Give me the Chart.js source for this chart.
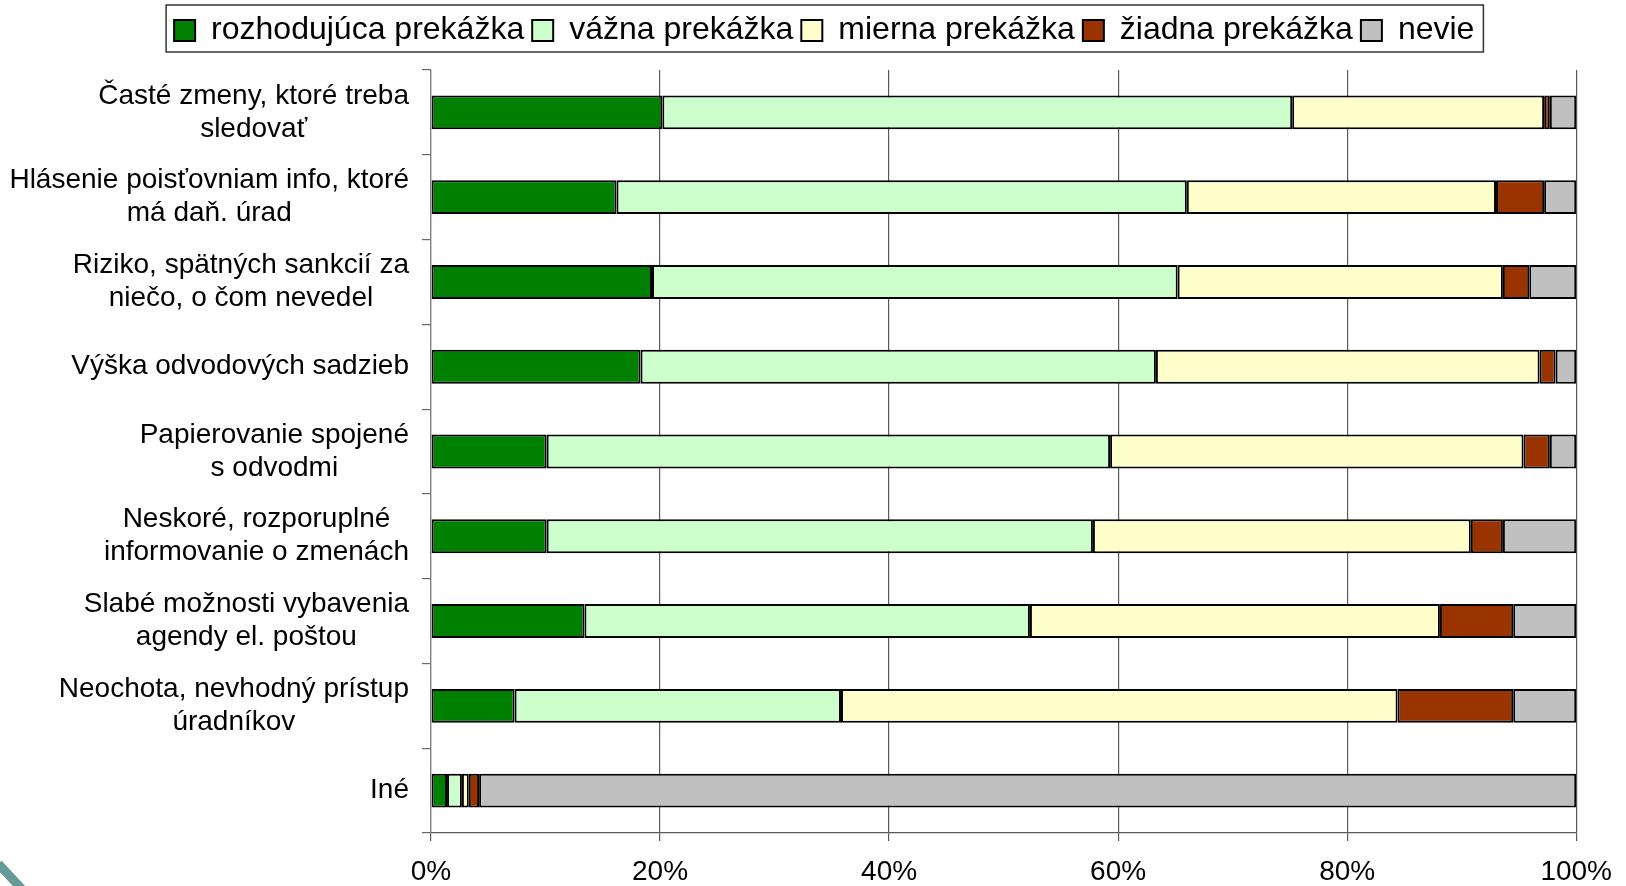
<!DOCTYPE html>
<html lang="sk">

<head>
    <meta charset="UTF-8">
    <title>Prekážky</title>
    <style>
        html, body {
            margin: 0;
            padding: 0;
            background: #fff;
            overflow: hidden;
        }
        .wrapper {
            position: relative;
            width: 1626px;
            height: 886px;
        }
        .corner {
            position: absolute;
            left: -8px;
            top: 874px;
            width: 40px;
            height: 9px;
            background: #669a98;
            transform: rotate(47deg);
        }
    </style>
</head>

<body>
    <div class="wrapper">
        <canvas id="chart"></canvas>
        <div class="corner"></div>
    </div>
    <script src="https://cdn.jsdelivr.net/npm/chart.js"></script>
    <script>
        const categories = [
            ["Časté zmeny, ktoré treba", "sledovať"],
            ["Hlásenie poisťovniam info, ktoré", "má daň. úrad"],
            ["Riziko, spätných sankcií za", "niečo, o čom nevedel"],
            ["Výška odvodových sadzieb"],
            ["Papierovanie spojené", "s odvodmi"],
            ["Neskoré, rozporuplné", "informovanie o zmenách"],
            ["Slabé možnosti vybavenia", "agendy el. poštou"],
            ["Neochota, nevhodný prístup", "úradníkov"],
            ["Iné"]
        ];

        const seriesNames = ["rozhodujúca prekážka", "vážna prekážka", "mierna prekážka", "žiadna prekážka", "nevie"];
        const rozhodujuca = [20.2, 16.2, 19.3, 18.3, 10.1, 10.1, 13.4, 7.3, 1.4];
        const vazna = [55.0, 49.8, 45.9, 45.0, 49.2, 47.7, 38.9, 28.5, 1.3];
        const mierna = [22.0, 27.0, 28.4, 33.5, 36.1, 33.0, 35.8, 48.6, 0.6];
        const ziadna = [0.5, 4.2, 2.3, 1.4, 2.3, 2.8, 6.4, 10.1, 0.9];
        const nevie = [2.3, 2.8, 4.1, 1.8, 2.3, 6.4, 5.5, 5.5, 95.8];

        const xTicks = [0, 20, 40, 60, 80, 100];

        const colors = ["#008000", "#ccffcc", "#ffffcc", "#993300", "#c0c0c0"];
        const FONT = '"Liberation Sans", Arial, sans-serif';

        const series = [rozhodujuca, vazna, mierna, ziadna, nevie];

        // frame around the legend, like the Excel one
        const legendFrame = {
            id: "legendFrame",
            afterDraw(chart) {
                const hb = chart.legend.legendHitBoxes;
                if (!hb || !hb.length) return;
                const last = hb[hb.length - 1];
                const cy = hb[0].top + hb[0].height / 2;
                const left = hb[0].left - 8;
                const right = last.left + last.width + 9;
                const c = chart.ctx;
                c.save();
                c.strokeStyle = "#333";
                c.lineWidth = 1.5;
                c.strokeRect(left, cy - 25.5, right - left, 47);
                c.restore();
            }
        };

        // category labels: right aligned block, lines centred inside it
        const catLabels = {
            id: "catLabels",
            afterDraw(chart) {
                const y = chart.scales.y;
                const c = chart.ctx;
                c.save();
                c.font = "28px " + FONT;
                c.fillStyle = "#000";
                c.textAlign = "center";
                c.textBaseline = "middle";
                const rightEdge = y.right - 22;
                categories.forEach((lines, i) => {
                    const cy = y.getPixelForValue(i);
                    const w = Math.max(...lines.map(l => c.measureText(l).width));
                    const cx = rightEdge - w / 2;
                    lines.forEach((l, j) => {
                        c.fillText(l, cx, cy + (j - (lines.length - 1) / 2) * 33);
                    });
                });
                c.restore();
            }
        };

        const legendSpace = {
            id: "legendSpace",
            beforeInit(chart) {
                const fit = chart.legend.fit;
                chart.legend.fit = function () {
                    fit.bind(chart.legend)();
                    this.height = 63.5;
                };
            }
        };

        const ctx = document.getElementById("chart");

        new Chart(ctx, {
            type: "bar",
            data: {
                labels: categories.map(c => c.join(" ")),
                datasets: series.map((d, i) => ({
                    label: seriesNames[i],
                    data: d,
                    backgroundColor: colors[i],
                    borderColor: "#000",
                    borderWidth: 2,
                    borderSkipped: false,
                    barPercentage: 0.4,
                    categoryPercentage: 1
                }))
            },
            options: {
                indexAxis: "y",
                responsive: true,
                maintainAspectRatio: false,
                animation: false,
                layout: {
                    padding: { top: 6.5, left: 70, right: 47.5, bottom: 0 }
                },
                plugins: {
                    tooltip: { enabled: false },
                    legend: {
                        position: "top",
                        labels: {
                            boxWidth: 21,
                            boxHeight: 21,
                            padding: 8,
                            color: "#000",
                            font: { family: FONT, size: 32 }
                        }
                    }
                },
                scales: {
                    x: {
                        stacked: true,
                        min: 0,
                        max: 100,
                        afterFit(scale) { scale.height = 53; },
                        afterBuildTicks(scale) {
                            scale.ticks = xTicks.map(v => ({ value: v }));
                        },
                        ticks: {
                            color: "#000",
                            padding: 14,
                            font: { family: FONT, size: 28 },
                            callback: v => v + "%"
                        },
                        grid: {
                            color: "#5a5a5a",
                            lineWidth: 1.2,
                            tickLength: 8
                        },
                        border: { color: "#5a5a5a", width: 1.2 }
                    },
                    y: {
                        stacked: true,
                        afterFit(scale) { scale.width = 361; },
                        ticks: { display: false },
                        grid: {
                            drawOnChartArea: false,
                            color: "#6a6a6a",
                            lineWidth: 1.2,
                            tickLength: 9
                        },
                        border: { color: "#808080", width: 1.2 }
                    }
                }
            },
            plugins: [legendSpace, legendFrame, catLabels]
        });
    </script>
</body>

</html>
